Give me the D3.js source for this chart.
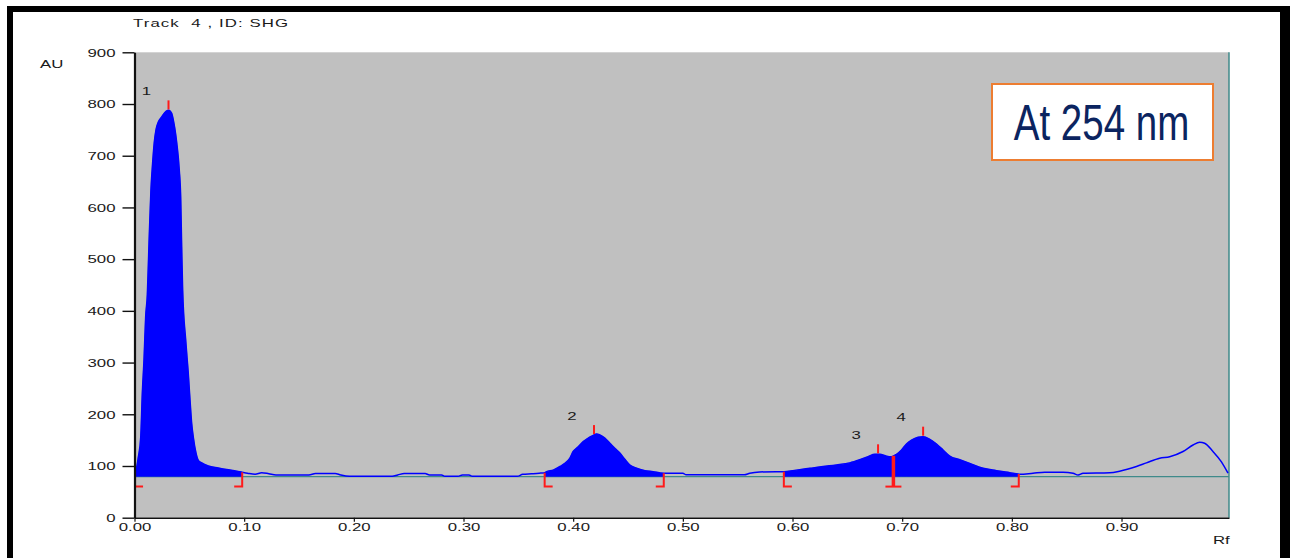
<!DOCTYPE html>
<html>
<head>
<meta charset="utf-8">
<script src="https://cdn.jsdelivr.net/npm/d3@7"></script>
<style>
  body { margin: 0; background: #fff; }
  svg { display: block; }
  text { font-family: "Liberation Sans", Arial, sans-serif; }
</style>
</head>
<body>
<svg id="chart" width="1290" height="558"></svg>
<script>
// ---------------- DATA ----------------
const title = "Track  4 , ID: SHG";
const yLabel = "AU";
const xLabel = "Rf";
const legendText = "At 254 nm";

const rf = [
  0.0000,0.0014,0.0035,0.0057,0.0071,0.0087,0.0102,0.0117,0.0132,0.0150,0.0166,0.0180,0.0196,0.0217,0.0248,0.0287,0.0314,
  0.0339,0.0354,0.0385,0.0408,0.0421,0.0430,0.0439,0.0468,0.0490,0.0506,0.0521,0.0536,0.0561,0.0582,0.0613,0.0673,0.0764,0.0840,0.0932,0.0980,
  0.1030,0.1100,0.1160,0.1225,0.1290,0.1590,0.1650,0.1830,0.1880,0.1960,0.2350,0.2400,0.2460,0.2650,0.2690,0.2800,0.2830,0.2950,0.2990,0.3050,0.3080,0.3490,0.3540,0.3620,0.3690,0.3742,
  0.3757,0.3818,0.3879,0.3924,0.3970,0.4000,0.4046,0.4091,0.4137,0.4182,0.4213,0.4243,0.4289,0.4335,0.4380,0.4426,0.4471,0.4517,0.4578,0.4654,0.4729,0.4820,
  0.5000,0.5030,0.5560,0.5610,0.5700,0.5850,
  0.5921,0.6036,0.6158,0.6279,0.6401,0.6522,0.6613,0.6689,0.6750,0.6796,0.6857,0.6903,0.6948,0.6994,0.7039,0.7085,0.7145,0.7191,0.7252,0.7313,0.7373,0.7434,0.7525,0.7616,0.7738,0.7860,0.7981,0.8057,
  0.8072,0.8193,0.8300,0.8467,0.8558,0.8604,0.8649,0.8892,0.8983,0.9136,0.9227,0.9348,0.9439,0.9561,0.9652,0.9713,0.9758,0.9834,0.9911,0.9971
];
const au = [
  88,92,117,156,239,307,389,431,528,634,688,725,750,765,775,786,788,
  782,769,725,673,620,524,440,340,280,228,183,156,125,111,106,100,96,93,90,88,
  86,84,87,85,82.6,82.6,85.5,85.5,82.6,80,80,82.6,85.5,85.5,82.6,82.6,80,80,82.6,82.6,80,80,84,85,86,87,
  89,92,99,105,115,128,137,147,154,159,162,160,154,144,134,125,113,102,95.6,91,89,86,
  86,83,83,86,88.4,89,
  89,92,95.5,99,102,106,112,118,122.6,122.6,119,118,122.6,131,142.6,150,155.5,156.7,151.6,142.6,131,119,112,105,95.6,91,87,84.5,
  84,86,87.8,87.8,86,82.6,86,87,90,99,106,115,118,128,140.6,146,144,128,108,86
];
const baselineAU = 79.5;

const peakLabels = ["1","2","3","4"];
const peakStart  = [0.0005, 0.3740, 0.5921, 0.6920];
const peakMax    = [0.0310, 0.4190, 0.6780, 0.7191];
const peakEnd    = [0.0982, 0.4826, 0.6920, 0.8063];

const yTicks = [0,100,200,300,400,500,600,700,800,900];
const xTicks = [0,0.1,0.2,0.3,0.4,0.5,0.6,0.7,0.8,0.9];
const xTickLabels = ["0.00","0.10","0.20","0.30","0.40","0.50","0.60","0.70","0.80","0.90"];

// ---------------- DRAWING ----------------
(function () {
const svg = d3.select("#chart");
const pLeft = 134.5, pRight = 1229, pTop = 52.3, pBottom = 517.7;
const x = d3.scaleLinear().domain([0, 0.998]).range([pLeft, pRight]);
const y = d3.scaleLinear().domain([0, 900]).range([pBottom, pTop]);
const SX = 1.6; // horizontal stretch of the instrument font
const fontSize = 10.5;
const textCol = "#1a1a1a";

const pts = rf.map((r, i) => ({ r, v: au[i] }));
function valueAt(r) {
  for (let i = 1; i < pts.length; i++) {
    if (pts[i].r >= r) {
      const a = pts[i - 1], b = pts[i];
      const t = (r - a.r) / (b.r - a.r);
      return a.v + t * (b.v - a.v);
    }
  }
  return pts[pts.length - 1].v;
}

// outer frame
svg.append("rect").attr("x", 7).attr("y", 6).attr("width", 1283).attr("height", 6).attr("fill", "#000");
svg.append("rect").attr("x", 7).attr("y", 6).attr("width", 6).attr("height", 552).attr("fill", "#000");
svg.append("rect").attr("x", 1280).attr("y", 6).attr("width", 10).attr("height", 552).attr("fill", "#000");

// plot background
svg.append("rect").attr("x", pLeft).attr("y", pTop).attr("width", pRight - pLeft).attr("height", pBottom - pTop).attr("fill", "#c0c0c0");

// right boundary line
svg.append("line").attr("x1", pRight).attr("x2", pRight).attr("y1", pTop).attr("y2", pBottom)
  .attr("stroke", "#3f8a8a").attr("stroke-width", 1.5);

// baseline
svg.append("line").attr("x1", x(0)).attr("x2", pRight).attr("y1", y(baselineAU)).attr("y2", y(baselineAU))
  .attr("stroke", "#3f8a8a").attr("stroke-width", 1.3);

// filled peaks
const area = d3.area().x(d => x(d.r)).y0(y(baselineAU)).y1(d => y(d.v)).curve(d3.curveMonotoneX);
peakStart.forEach((s, i) => {
  const e = peakEnd[i];
  const seg = [{ r: s, v: valueAt(s) }].concat(pts.filter(p => p.r > s && p.r < e)).concat([{ r: e, v: valueAt(e) }]);
  svg.append("path").datum(seg).attr("d", area).attr("fill", "#0000ff").attr("stroke", "#0000ff").attr("stroke-width", 0.5);
});

// trace
const line = d3.line().x(d => x(d.r)).y(d => y(d.v)).curve(d3.curveMonotoneX);
svg.append("path").datum(pts).attr("d", line).attr("fill", "none").attr("stroke", "#0000ff").attr("stroke-width", 1.5);

// integration markers
const red = "#ff1a1a";
const below = y(baselineAU) + 10;
peakStart.forEach((s, i) => {
  const e = peakEnd[i];
  const shared = i < peakStart.length - 1 && Math.abs(peakStart[i + 1] - e) < 1e-6;
  const sharedPrev = i > 0 && Math.abs(peakEnd[i - 1] - s) < 1e-6;
  if (!sharedPrev) {
    svg.append("path").attr("d", `M${x(s)},${y(valueAt(s))}V${below}h8`).attr("fill", "none").attr("stroke", red).attr("stroke-width", 2);
  }
  if (shared) {
    svg.append("line").attr("x1", x(e)).attr("x2", x(e)).attr("y1", y(valueAt(e))).attr("y2", below)
      .attr("stroke", red).attr("stroke-width", 3.5);
    svg.append("line").attr("x1", x(e) - 8).attr("x2", x(e) + 8).attr("y1", below).attr("y2", below)
      .attr("stroke", red).attr("stroke-width", 2);
  } else {
    svg.append("path").attr("d", `M${x(e) - 8},${below}h8V${y(valueAt(e))}`).attr("fill", "none").attr("stroke", red).attr("stroke-width", 2);
  }
  // apex tick
  const m = peakMax[i];
  const yt = y(valueAt(m)) - 1;
  svg.append("line").attr("x1", x(m)).attr("x2", x(m)).attr("y1", yt).attr("y2", yt - 9)
    .attr("stroke", red).attr("stroke-width", 2);
  // peak number
  svg.append("text").attr("transform", `translate(${x(m) - 22},${yt - 18}) scale(${SX},1)`)
    .attr("text-anchor", "middle").attr("dominant-baseline", "central")
    .attr("font-size", fontSize).attr("fill", textCol).text(peakLabels[i]);
});

// axes
const yAxis = svg.append("g").attr("transform", `translate(${pLeft},0)`)
  .call(d3.axisLeft(y).tickValues(yTicks).tickSize(12).tickSizeOuter(0).tickFormat(d3.format("d")));
yAxis.select(".domain").attr("stroke", "#111").attr("stroke-width", 2.2);
yAxis.selectAll(".tick line").attr("stroke", "#111").attr("stroke-width", 1.4);
yAxis.selectAll(".tick text").attr("x", null).attr("dy", null)
  .attr("transform", `translate(-19,0) scale(${SX},1)`).attr("dominant-baseline", "central")
  .attr("font-size", fontSize).attr("font-family", "Liberation Sans, Arial, sans-serif").attr("fill", textCol);

const xAxis = svg.append("g").attr("transform", `translate(0,${pBottom})`)
  .call(d3.axisBottom(x).tickValues(xTicks).tickSize(4).tickSizeOuter(0).tickFormat((d, i) => xTickLabels[i]));
xAxis.select(".domain").attr("stroke", "#111").attr("stroke-width", 1.6);
xAxis.selectAll(".tick line").attr("stroke", "#111").attr("stroke-width", 1.2);
xAxis.selectAll(".tick text").attr("y", null).attr("dy", null)
  .attr("transform", `translate(0,9.5) scale(${SX},1)`).attr("dominant-baseline", "central")
  .attr("font-size", fontSize).attr("font-family", "Liberation Sans, Arial, sans-serif").attr("fill", textCol);

// labels
function stretched(xx, yy, s, anchor, len) {
  const t = svg.append("text").attr("transform", `translate(${xx},${yy}) scale(${SX},1)`)
    .attr("text-anchor", anchor).attr("dominant-baseline", "central")
    .attr("xml:space", "preserve")
    .attr("font-size", fontSize).attr("fill", textCol).style("white-space", "pre").text(s);
  if (len) t.attr("textLength", len / SX).attr("lengthAdjust", "spacing");
}
stretched(133, 23, title, "start", 155);
stretched(40, 64, yLabel, "start");
stretched(1213, 540, xLabel, "start");

// legend box
svg.append("rect").attr("x", 992).attr("y", 84).attr("width", 221).attr("height", 76)
  .attr("fill", "#fff").attr("stroke", "#ed7d31").attr("stroke-width", 2);
svg.append("text").attr("transform", "translate(1101.5,140) scale(0.77,1)")
  .attr("text-anchor", "middle").attr("font-size", 50).attr("fill", "#0b2460").text(legendText);
})();
</script>
</body>
</html>
